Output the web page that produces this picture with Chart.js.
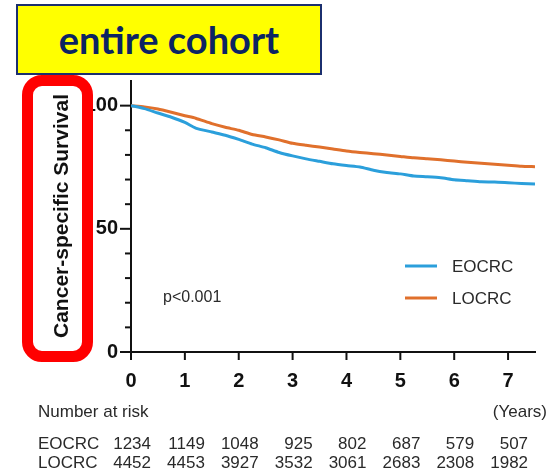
<!DOCTYPE html>
<html>
<head>
<meta charset="utf-8">
<script src="https://cdn.jsdelivr.net/npm/chart.js@4/dist/chart.umd.min.js"></script>
<style>
  html, body { margin: 0; padding: 0; background: #fff; }
  #wrap { position: relative; width: 549px; height: 475px; overflow: hidden; }
  #km { position: absolute; left: 0; top: 0; }
  #title {
    position: absolute; left: 16px; top: 4px; width: 306px; height: 71px;
    box-sizing: border-box; background: #ffff00; border: 2px solid #1b2f6e;
    font-family: "Lato", "Liberation Sans", sans-serif; font-weight: 700;
    font-size: 38px; color: #0c2463; text-align: center; line-height: 66px;
  }
  #frame {
    position: absolute; left: 22px; top: 75px; width: 71px; height: 287px;
    box-sizing: border-box; border: 11px solid #ff0000; border-radius: 20px;
  }
</style>
</head>
<body>
<div id="wrap">
  <canvas id="km" width="549" height="475"></canvas>
  <div id="title">entire cohort</div>
  <div id="frame"></div>
</div>
<script>
// Kaplan-Meier estimates (%), read at quarter-year steps
const years = [0, 0.25, 0.5, 0.75, 1, 1.2, 1.5, 1.75, 2, 2.25, 2.5, 2.75, 3, 3.25, 3.5, 3.75,
               4, 4.25, 4.5, 4.75, 5, 5.25, 5.5, 5.75, 6, 6.25, 6.5, 6.75, 7, 7.25, 7.5];
const eocrcSurvival = [100, 98.8, 97.0, 95.3, 93.2, 90.9, 89.3, 88.0, 86.3, 84.4, 82.9, 81.0, 79.6, 78.4, 77.4, 76.4,
                       75.7, 75.1, 73.8, 72.9, 72.3, 71.4, 71.1, 70.7, 69.9, 69.5, 69.1, 69.0, 68.7, 68.4, 68.2];
const locrcSurvival = [100, 99.5, 98.6, 97.3, 95.9, 94.9, 92.7, 91.2, 90.0, 88.3, 87.3, 86.1, 84.7, 83.9, 83.2, 82.4,
                       81.6, 81.0, 80.5, 80.0, 79.4, 78.8, 78.4, 78.0, 77.5, 77.0, 76.6, 76.2, 75.8, 75.4, 75.2];

// Number-at-risk table, one value per whole year
const riskYears = [0, 1, 2, 3, 4, 5, 6, 7];
const eocrcAtRisk = [1234, 1149, 1048, 925, 802, 687, 579, 507];
const locrcAtRisk = [4452, 4453, 3927, 3532, 3061, 2683, 2308, 1982];

const yTickLabels = [0, 50, 100];
const groups = ['EOCRC', 'LOCRC'];
const groupColors = ['#2b9fdb', '#e0702c'];

const FONT = '"Liberation Sans", Arial, sans-serif';

const toPoints = (vals) => years.map((x, i) => ({ x, y: vals[i] }));

// Tick marks, legend, p-value, axis title and risk table
const decorations = {
  id: 'decorations',
  afterDraw(chart) {
    const ctx = chart.ctx;
    const xs = chart.scales.x, ys = chart.scales.y;
    const x0 = xs.getPixelForValue(0), y0 = ys.getPixelForValue(0);
    ctx.save();
    ctx.strokeStyle = '#111';
    ctx.lineWidth = 2;
    // y ticks every 10, longer at labelled values
    for (let v = 0; v <= 100; v += 10) {
      const py = ys.getPixelForValue(v);
      const len = yTickLabels.includes(v) ? 11 : 6;
      ctx.beginPath(); ctx.moveTo(x0 - len, py); ctx.lineTo(x0, py); ctx.stroke();
    }
    // x ticks at whole years
    riskYears.forEach(v => {
      const px = xs.getPixelForValue(v);
      ctx.beginPath(); ctx.moveTo(px, y0); ctx.lineTo(px, y0 + 8); ctx.stroke();
    });

    // axis title
    ctx.fillStyle = '#111';
    ctx.font = 'bold 21px ' + FONT;
    ctx.textAlign = 'center';
    ctx.textBaseline = 'middle';
    ctx.translate(62, 216);
    ctx.rotate(-Math.PI / 2);
    ctx.fillText('Cancer-specific Survival', 0, 0);
    ctx.setTransform(1, 0, 0, 1, 0, 0);

    // legend
    ctx.font = '17px ' + FONT;
    ctx.textAlign = 'left';
    ctx.fillStyle = '#2a2a2a';
    groups.forEach((g, i) => {
      const ly = 266 + i * 32;
      ctx.strokeStyle = groupColors[i];
      ctx.lineWidth = 3;
      ctx.beginPath(); ctx.moveTo(405, ly); ctx.lineTo(437, ly); ctx.stroke();
      ctx.fillText(g, 452, ly + 1);
    });

    // p-value
    ctx.font = '16px ' + FONT;
    ctx.fillText('p<0.001', 163, 298);

    // number at risk
    ctx.font = '17px ' + FONT;
    ctx.fillText('Number at risk', 38, 412);
    ctx.textAlign = 'right';
    ctx.fillText('(Years)', 547, 412);
    const rows = [eocrcAtRisk, locrcAtRisk];
    rows.forEach((row, r) => {
      const ry = 444 + r * 19;
      ctx.textAlign = 'left';
      ctx.fillText(groups[r], 38, ry);
      ctx.textAlign = 'right';
      row.forEach((n, i) => {
        ctx.fillText(String(n), xs.getPixelForValue(riskYears[i]) + 20, ry);
      });
    });
    ctx.restore();
  }
};

new Chart(document.getElementById('km'), {
  type: 'line',
  data: {
    datasets: [
      { label: groups[0], data: toPoints(eocrcSurvival), borderColor: groupColors[0] },
      { label: groups[1], data: toPoints(locrcSurvival), borderColor: groupColors[1] }
    ]
  },
  options: {
    responsive: false,
    animation: false,
    events: [],
    layout: { padding: { left: 0, right: 14, top: 81, bottom: 0 } },
    elements: {
      line: { borderWidth: 3, tension: 0.2, fill: false },
      point: { radius: 0 }
    },
    plugins: { legend: { display: false }, tooltip: { enabled: false } },
    scales: {
      x: {
        type: 'linear', min: 0, max: 7.5,
        afterFit(s) { s.height = 123; },
        border: { display: true, color: '#111', width: 2 },
        grid: { display: true, drawOnChartArea: false, drawTicks: false },
        ticks: {
          stepSize: 1, autoSkip: false, maxRotation: 0, padding: 17, includeBounds: false,
          color: '#111', font: { family: FONT, size: 20, weight: 'bold' },
          callback: (v) => Number.isInteger(v) ? String(v) : ''
        }
      },
      y: {
        type: 'linear', min: 0, max: 110,
        afterFit(s) { s.width = 131; },
        border: { display: true, color: '#111', width: 2 },
        grid: { display: true, drawOnChartArea: false, drawTicks: false },
        ticks: {
          stepSize: 10, padding: 13, autoSkip: false, includeBounds: false,
          color: '#111', font: { family: FONT, size: 20, weight: 'bold' },
          callback: (v) => yTickLabels.includes(v) ? String(v) : ''
        }
      }
    }
  },
  plugins: [decorations]
});
</script>
</body>
</html>
